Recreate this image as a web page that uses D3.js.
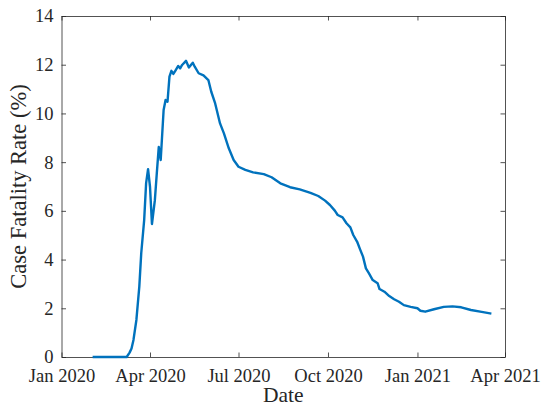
<!DOCTYPE html>
<html>
<head>
<meta charset="utf-8">
<script src="https://cdn.jsdelivr.net/npm/d3@7"></script>
<style>
  html, body { margin: 0; padding: 0; background: #fff; }
  svg { display: block; }
</style>
</head>
<body>
<svg id="chart" width="544" height="407"></svg>
<script>
// ---- data ----
const dates = [
  "2020-02-02","2020-03-08","2020-03-11","2020-03-13","2020-03-15","2020-03-18","2020-03-21","2020-03-23",
  "2020-03-26","2020-03-28","2020-03-30","2020-04-01","2020-04-03","2020-04-06","2020-04-08","2020-04-10",
  "2020-04-12","2020-04-15","2020-04-17","2020-04-19","2020-04-21","2020-04-23","2020-04-25","2020-04-27",
  "2020-04-30","2020-05-02","2020-05-04","2020-05-08","2020-05-11","2020-05-15","2020-05-17","2020-05-21",
  "2020-05-26","2020-05-31","2020-06-03","2020-06-07","2020-06-12","2020-06-16","2020-06-21","2020-06-26",
  "2020-07-01","2020-07-08","2020-07-16","2020-07-27","2020-08-04","2020-08-13","2020-08-23","2020-09-02",
  "2020-09-13","2020-09-21","2020-09-28","2020-10-03","2020-10-08","2020-10-11","2020-10-16","2020-10-20",
  "2020-10-24","2020-10-27","2020-10-31","2020-11-03","2020-11-06","2020-11-09","2020-11-12","2020-11-16",
  "2020-11-21","2020-11-23","2020-11-28","2020-12-03","2020-12-08","2020-12-13","2020-12-18","2020-12-25",
  "2021-01-01","2021-01-04","2021-01-09","2021-01-18","2021-01-28","2021-02-06","2021-02-15","2021-02-25",
  "2021-03-08","2021-03-18"
];
const cfr = [
  0, 0, 0.18, 0.35, 0.70, 1.52, 2.89, 4.27,
  5.62, 7.14, 7.71, 6.99, 5.46, 6.44, 7.55, 8.62,
  8.09, 10.14, 10.55, 10.48, 11.51, 11.75, 11.62, 11.75,
  11.95, 11.85, 11.99, 12.16, 11.89, 12.08, 11.92, 11.65,
  11.56, 11.37, 10.89, 10.41, 9.59, 9.18, 8.57, 8.09,
  7.81, 7.68, 7.58, 7.51, 7.38, 7.13, 6.97, 6.88,
  6.74, 6.61, 6.42, 6.24, 6.01, 5.83, 5.73, 5.49,
  5.32, 5.01, 4.73, 4.42, 4.12, 3.64, 3.44, 3.16,
  3.03, 2.79, 2.68, 2.50, 2.37, 2.27, 2.13, 2.06,
  2.00, 1.90, 1.86, 1.96, 2.06, 2.08, 2.04, 1.93,
  1.85, 1.78
];
const xTickDates = ["2020-01-01","2020-04-01","2020-07-01","2020-10-01","2021-01-01","2021-04-01"];
const xTickLabels = ["Jan 2020","Apr 2020","Jul 2020","Oct 2020","Jan 2021","Apr 2021"];
const yTicks = [0, 2, 4, 6, 8, 10, 12, 14];
const xLabel = "Date";
const yLabel = "Case Fatality Rate (%)";

// ---- layout ----
const L = 61.5, R = 505, T = 16, B = 357;
const FONT = '"Liberation Serif", "Times New Roman", serif';
const svg = d3.select("#chart");
const parse = d3.utcParse("%Y-%m-%d");

const x = d3.scaleUtc()
  .domain([parse(xTickDates[0]), parse(xTickDates[xTickDates.length - 1])])
  .range([L, R]);
const y = d3.scaleLinear().domain([0, 14]).range([B, T]);

const data = dates.map((d, i) => ({ date: parse(d), v: cfr[i] }));
const tickVals = xTickDates.map(parse);
const axisColor = "#262626";
const tickLen = 4.5;

function styleAxis(g) {
  g.attr("font-family", FONT);
  g.selectAll("path.domain").attr("stroke", axisColor).attr("stroke-width", 0.8);
  g.selectAll(".tick line").attr("stroke", axisColor).attr("stroke-width", 0.8);
}

// bottom axis
const gx = svg.append("g").attr("transform", `translate(0,${B})`)
  .call(d3.axisBottom(x).tickValues(tickVals).tickSizeInner(-tickLen).tickSizeOuter(0)
    .tickFormat((d, i) => xTickLabels[i]).tickPadding(12));
styleAxis(gx);
gx.selectAll("text").attr("font-size", 18.5).attr("dy", "0.71em").attr("fill", axisColor)
  .style("font-family", FONT);

// top axis
const gxt = svg.append("g").attr("transform", `translate(0,${T})`)
  .call(d3.axisTop(x).tickValues(tickVals).tickSizeInner(-tickLen).tickSizeOuter(0).tickFormat(""));
styleAxis(gxt);

// left axis
const gy = svg.append("g").attr("transform", `translate(${L},0)`)
  .call(d3.axisLeft(y).tickValues(yTicks).tickSizeInner(-tickLen).tickSizeOuter(0).tickPadding(8));
styleAxis(gy);
gy.selectAll("text").attr("font-size", 18.5).attr("fill", axisColor)
  .style("font-family", FONT);

// right axis
const gyr = svg.append("g").attr("transform", `translate(${R},0)`)
  .call(d3.axisRight(y).tickValues(yTicks).tickSizeInner(-tickLen).tickSizeOuter(0).tickFormat(""));
styleAxis(gyr);

// line
const line = d3.line().x(d => x(d.date)).y(d => y(d.v));
svg.append("path").datum(data)
  .attr("d", line)
  .attr("fill", "none")
  .attr("stroke", "#0072BD")
  .attr("stroke-width", 2.4)
  .attr("stroke-linejoin", "round");

// axis labels
svg.append("text")
  .attr("x", (L + R) / 2).attr("y", 402)
  .attr("text-anchor", "middle")
  .style("font-family", FONT).style("font-size", "21.5px").style("fill", axisColor)
  .text(xLabel);
svg.append("text")
  .attr("transform", `translate(26,${(T + B) / 2}) rotate(-90)`)
  .attr("text-anchor", "middle")
  .style("font-family", FONT).style("font-size", "22.5px").style("fill", axisColor)
  .text(yLabel);
</script>
</body>
</html>
